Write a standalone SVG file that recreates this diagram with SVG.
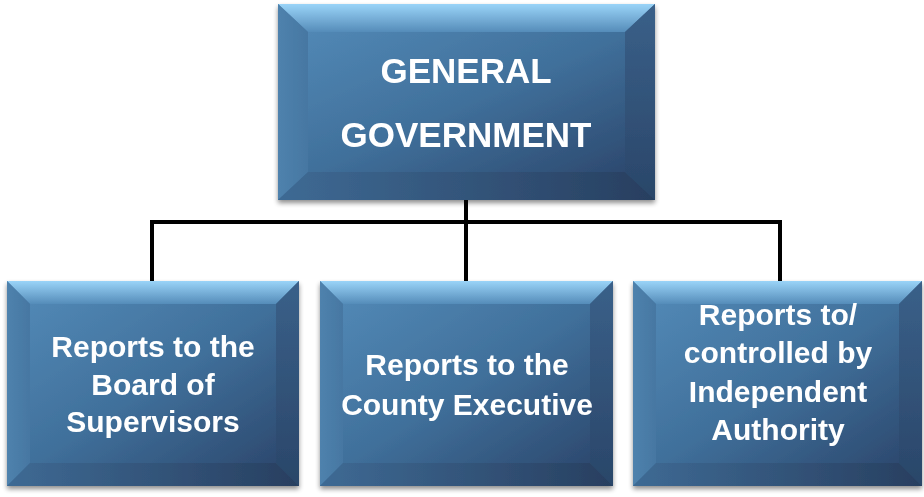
<svg xmlns="http://www.w3.org/2000/svg" width="924" height="497" viewBox="0 0 924 497">
<defs>
<linearGradient id="face" x1="0" y1="0" x2="1" y2="1">
<stop offset="0" stop-color="#5187b4"/>
<stop offset="0.5" stop-color="#40709b"/>
<stop offset="1" stop-color="#2d4a70"/>
</linearGradient>
<linearGradient id="top" x1="0" y1="0" x2="0" y2="1">
<stop offset="0" stop-color="#9ad4f8"/>
<stop offset="1" stop-color="#558cb9"/>
</linearGradient>
<linearGradient id="left" x1="0" y1="0" x2="1" y2="0">
<stop offset="0" stop-color="#4f82ad"/>
<stop offset="1" stop-color="#4677a2"/>
</linearGradient>
<linearGradient id="right" x1="0" y1="0" x2="0" y2="1">
<stop offset="0" stop-color="#3a6089"/>
<stop offset="1" stop-color="#2a4669"/>
</linearGradient>
<linearGradient id="bottom" x1="0" y1="0" x2="1" y2="0">
<stop offset="0" stop-color="#3e6a94"/>
<stop offset="1" stop-color="#283f60"/>
</linearGradient>
<filter id="sh" x="-5%" y="-5%" width="110%" height="115%">
<feGaussianBlur in="SourceAlpha" stdDeviation="2.5"/>
<feOffset dx="0" dy="3" result="b"/>
<feComponentTransfer><feFuncA type="linear" slope="0.45"/></feComponentTransfer>
<feMerge><feMergeNode/><feMergeNode in="SourceGraphic"/></feMerge>
</filter>
</defs>
<style>
.t{fill:#ffffff;font-family:"Liberation Sans",Arial,sans-serif;font-weight:bold;text-anchor:middle}
.big{font-size:35px}
.sm{font-size:30px}
.face{fill:url(#face)}
.bt{fill:url(#top)}
.bl{fill:url(#left)}
.br{fill:url(#right)}
.bb{fill:url(#bottom)}
.ln{stroke:#000;stroke-width:4;fill:none;stroke-linecap:square}
</style>
<g id="connectors">
<path class="ln" d="M466 201 V222 M152 222 H780 M152 222 V280 M466 222 V280 M780 222 V280"/>
</g>
<g id="general-government" filter="url(#sh)">
<rect class="face" x="278" y="4" width="377" height="196"/>
<polygon class="bt" points="278,4 655,4 625,32 308,32"/>
<polygon class="bl" points="278,4 308,32 308,172 278,200"/>
<polygon class="br" points="655,4 655,200 625,172 625,32"/>
<polygon class="bb" points="278,200 308,172 625,172 655,200"/>
<rect class="face" x="308" y="32" width="317" height="140"/>
<text class="t big" x="466" y="83">GENERAL</text>
<text class="t big" x="466" y="147">GOVERNMENT</text>
</g>
<g id="board-of-supervisors" filter="url(#sh)">
<rect class="face" x="7" y="281" width="292" height="205"/>
<polygon class="bt" points="7,281 299,281 276,304 30,304"/>
<polygon class="bl" points="7,281 30,304 30,463 7,486"/>
<polygon class="br" points="299,281 299,486 276,463 276,304"/>
<polygon class="bb" points="7,486 30,463 276,463 299,486"/>
<rect class="face" x="30" y="304" width="246" height="159"/>
<text class="t sm" x="153" y="357">Reports to the</text>
<text class="t sm" x="153" y="395">Board of</text>
<text class="t sm" x="153" y="432">Supervisors</text>
</g>
<g id="county-executive" filter="url(#sh)">
<rect class="face" x="320" y="281" width="293" height="205"/>
<polygon class="bt" points="320,281 613,281 590,304 343,304"/>
<polygon class="bl" points="320,281 343,304 343,463 320,486"/>
<polygon class="br" points="613,281 613,486 590,463 590,304"/>
<polygon class="bb" points="320,486 343,463 590,463 613,486"/>
<rect class="face" x="343" y="304" width="247" height="159"/>
<text class="t sm" x="467" y="375">Reports to the</text>
<text class="t sm" x="467" y="415">County Executive</text>
</g>
<g id="independent-authority" filter="url(#sh)">
<rect class="face" x="633" y="281" width="289" height="205"/>
<polygon class="bt" points="633,281 922,281 899,304 656,304"/>
<polygon class="bl" points="633,281 656,304 656,463 633,486"/>
<polygon class="br" points="922,281 922,486 899,463 899,304"/>
<polygon class="bb" points="633,486 656,463 899,463 922,486"/>
<rect class="face" x="656" y="304" width="243" height="159"/>
<text class="t sm" x="778" y="325">Reports to/</text>
<text class="t sm" x="778" y="363">controlled by</text>
<text class="t sm" x="778" y="402">Independent</text>
<text class="t sm" x="778" y="440">Authority</text>
</g>
</svg>
